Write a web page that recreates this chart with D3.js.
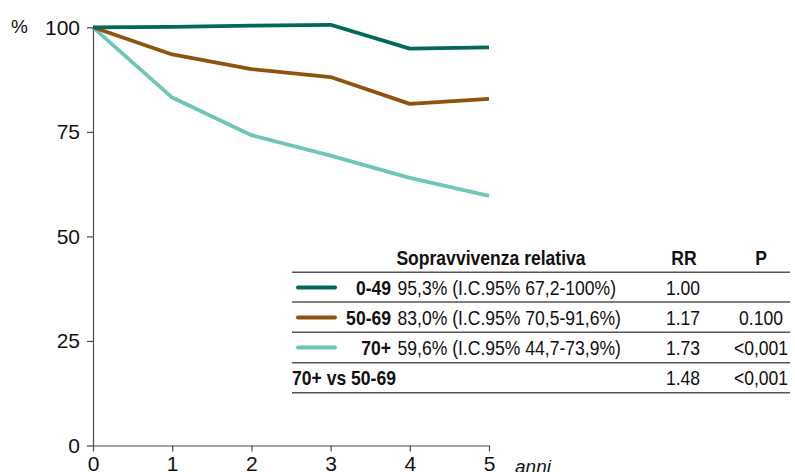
<!DOCTYPE html>
<html><head><meta charset="utf-8">
<script src="https://cdn.jsdelivr.net/npm/d3@7"></script>
<style>
html,body{margin:0;padding:0;background:#fff;overflow:hidden;}
svg{display:block;}
</style></head>
<body>
<script>
const years = [0, 1, 2, 3, 4, 5];
const seriesNames = ["0-49", "50-69", "70+"];
const s0_49 = [100, 100.1, 100.4, 100.6, 94.9, 95.2];
const s50_69 = [100, 93.5, 90.0, 88.1, 81.7, 82.9];
const s70p = [100, 83.2, 74.2, 69.3, 64.0, 59.7];
const colors = ["#00695c", "#8f520f", "#6ec5b8"];
const yTicks = [0, 25, 50, 75, 100];

const tableHeader = ["Sopravvivenza relativa", "RR", "P"];
const tableLabels = ["0-49", "50-69", "70+", "70+ vs 50-69"];
const tableSurv = ["95,3% (I.C.95% 67,2-100%)", "83,0% (I.C.95% 70,5-91,6%)", "59,6% (I.C.95% 44,7-73,9%)", ""];
const tableRR = ["1.00", "1.17", "1.73", "1.48"];
const tableP = ["", "0.100", "<0,001", "<0,001"];

const W = 795, H = 472;
const svg = d3.select("body").append("svg").attr("width", W).attr("height", H);

const x = d3.scaleLinear().domain([0, 5]).range([93, 489]);
const y = d3.scaleLinear().domain([0, 100]).range([445.5, 27.3]);
const axisCol = "#4a4a4a";
const tickFont = "'Liberation Sans', Arial, sans-serif";

// Y axis
const yAxis = svg.append("g").attr("transform", `translate(${x(0)},0)`)
  .call(d3.axisLeft(y).tickValues(yTicks).tickSize(6).tickSizeOuter(0).tickPadding(7).tickFormat(d3.format("d")));
yAxis.select(".domain").attr("stroke", axisCol).attr("stroke-width", 1.2);
yAxis.selectAll(".tick line").attr("stroke", axisCol).attr("stroke-width", 1.2);
yAxis.selectAll("text").attr("font-family", tickFont).attr("font-size", 21).attr("fill", "#111");

// X axis
const xAxis = svg.append("g").attr("transform", `translate(0,${y(0)})`)
  .call(d3.axisBottom(x).tickValues(years).tickSize(6).tickSizeOuter(0).tickPadding(5).tickFormat(d3.format("d")));
xAxis.select(".domain").attr("stroke", axisCol).attr("stroke-width", 1.2);
xAxis.selectAll(".tick line").attr("stroke", axisCol).attr("stroke-width", 1.2);
xAxis.selectAll("text").attr("font-family", tickFont).attr("font-size", 21).attr("fill", "#111");

svg.append("text").attr("x", 11).attr("y", 33).attr("font-family", tickFont)
  .attr("font-size", 19).attr("fill", "#111").text("%");
svg.append("text").attr("x", 515).attr("y", 473).attr("font-family", tickFont)
  .attr("font-size", 19).attr("font-style", "italic").attr("fill", "#111").text("anni");

// Lines
const allSeries = [s0_49, s50_69, s70p];
const line = d3.line().x((d, i) => x(years[i])).y(d => y(d));
[2, 1, 0].forEach(k => {
  svg.append("path").datum(allSeries[k]).attr("d", line)
    .attr("fill", "none").attr("stroke", colors[k]).attr("stroke-width", 3.8)
    .attr("stroke-linejoin", "round");
});

// Table
const tX0 = 292, tX1 = 790;
const lineYs = [272.3, 302, 332.2, 362.7, 392.7];
const rowBase = [294.5, 324.5, 354.5, 385];
const tbl = svg.append("g").attr("font-family", tickFont).attr("fill", "#111").attr("font-size", 19.5);
function txt(px, py, str, anchor, bold) {
  tbl.append("text").attr("transform", `translate(${px},${py}) scale(0.9,1)`)
    .attr("text-anchor", anchor).attr("font-weight", bold ? "bold" : "normal").text(str);
}
txt(491, 265, tableHeader[0], "middle", true);
txt(684, 265, tableHeader[1], "middle", true);
txt(761, 265, tableHeader[2], "middle", true);
lineYs.forEach(ly => {
  tbl.append("line").attr("x1", tX0).attr("x2", tX1).attr("y1", ly).attr("y2", ly)
    .attr("stroke", "#555").attr("stroke-width", 1.5);
});
tableLabels.forEach((lab, i) => {
  if (i < 3) {
    tbl.append("line").attr("x1", 298).attr("x2", 335)
      .attr("y1", rowBase[i] - 7).attr("y2", rowBase[i] - 7)
      .attr("stroke", colors[i]).attr("stroke-width", 4).attr("stroke-linecap", "round");
    txt(391, rowBase[i], lab, "end", true);
    txt(397.5, rowBase[i], tableSurv[i], "start", false);
  } else {
    txt(292, rowBase[i], lab, "start", true);
  }
  txt(683, rowBase[i], tableRR[i], "middle", false);
  txt(761, rowBase[i], tableP[i], "middle", false);
});
</script>
</body></html>
